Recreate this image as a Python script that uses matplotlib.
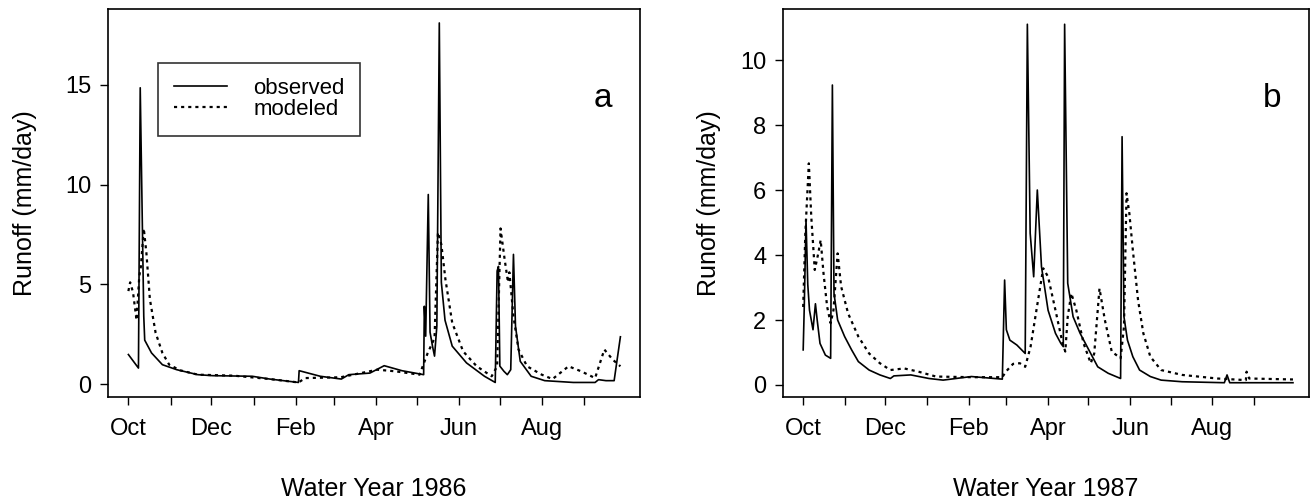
import numpy as np
import matplotlib
matplotlib.use("Agg")
import matplotlib.pyplot as plt

plt.rcParams['font.family'] = ['Liberation Sans', 'DejaVu Sans']

# days since 1 Oct, runoff in mm/day
# water year 1986
day_obs_a = [0, 7.4, 8.7, 11.3, 12, 17, 25, 35.5, 51, 62, 91, 104, 125, 125.5, 141, 156.5,
             162, 177.5, 188, 201, 217, 217.5, 218.5, 220.4, 221.7, 223.5, 225, 226.7, 228.5,
             230, 232.7, 238, 248.5, 261.7, 269.6, 271, 272, 273, 276, 278.5, 281, 283,
             284.5, 288, 296, 306, 327, 343, 345.5, 351, 357, 361.6]
val_obs_a = [1.48, 0.8, 14.85, 3.4, 2.2, 1.56, 0.97, 0.72, 0.47, 0.42, 0.39, 0.25, 0.08, 0.67, 0.39, 0.25,
             0.47, 0.55, 0.92, 0.67, 0.47, 3.9, 2.4, 9.5, 2.6, 1.9, 1.4, 2.9, 18.1,
             5.1, 3.2, 1.9, 1.06, 0.39, 0.08, 5.67, 5.9, 0.9, 0.64, 0.47, 0.72, 6.5,
             2.9, 1.14, 0.39, 0.17, 0.08, 0.08, 0.22, 0.17, 0.17, 2.37]

day_mod_a = [0, 1.3, 3.4, 6, 8, 9.2, 11.3, 13.2, 15.8, 20, 25, 30, 38, 51, 77.6, 104, 125,
             130, 156, 183, 196, 214, 220, 225, 227.5, 230, 233, 238, 246, 256, 267, 271,
             273.5, 276.5, 279, 280, 283, 286.7, 293, 303.8, 311.7, 323.5, 332.7, 343,
             349.8, 356, 361.6]
val_mod_a = [4.66, 5.1, 4.6, 3.2, 5.4, 5.9, 7.8, 6.6, 4.25, 2.57, 1.56, 0.97, 0.69, 0.47, 0.42, 0.25, 0.08,
             0.3, 0.34, 0.72, 0.64, 0.47, 1.56, 2.3, 7.6, 7.0, 5.25, 3.07, 1.64, 0.89, 0.39, 0.89,
             7.8, 6.26, 5.1, 5.6, 3.4, 1.73, 0.89, 0.47, 0.25, 0.89, 0.64, 0.3,
             1.73, 1.22, 0.89]

# water year 1987
day_obs_b = [0, 0.8, 2.1, 3.4, 4.7, 7.3, 9.1, 10.4, 12.5, 16.5, 20.4, 21.7, 22.9, 25.6, 30.8,
             36, 41, 49, 57, 64.8, 67.4, 80, 93.5, 104, 125, 148, 149.7, 151, 153.6, 158.8,
             165, 166.6, 168.7, 171.3, 174, 177.1, 182, 187.5, 191.5, 193.3, 194.3, 196.6,
             200.6, 205.8, 211, 218.9, 226.7, 235.9, 237, 238.4, 241, 245, 250, 258, 266,
             281.6, 313, 315, 317, 364]
val_obs_b = [1.08, 2.4, 5.08, 3.1, 2.3, 1.7, 2.5, 2.0, 1.28, 0.92, 0.82, 9.23, 2.82, 2.0, 1.49,
             1.08, 0.72, 0.46, 0.31, 0.2, 0.28, 0.31, 0.2, 0.15, 0.26, 0.18, 3.23, 1.7, 1.38, 1.23,
             0.97, 11.1, 4.67, 3.33, 6.0, 3.64, 2.3, 1.59, 1.28, 1.18, 11.1, 3.13,
             2.1, 1.59, 1.18, 0.56, 0.36, 0.2, 7.64, 2.1, 1.38, 0.87, 0.46, 0.26, 0.15,
             0.1, 0.07, 0.31, 0.07, 0.07]

day_mod_b = [0, 1.6, 4.2, 6, 8.6, 11.2, 13, 15.1, 17.8, 20.4, 22.5, 25.6, 28.2, 33.4, 41, 49, 57,
             64.8, 75, 85.7, 98.7, 125, 148, 150.6, 156, 161, 165, 169, 174.5, 178.4, 182,
             187.5, 192.8, 194.8, 196.6, 199.3, 203, 208.4, 213.7, 216.3, 220.2, 224.2, 229.3,
             235.9, 238.4, 240.3, 242.4, 245, 248.9, 252.8, 258, 266, 281.6, 307.7, 329, 329.5,
             331.5, 364]
val_mod_b = [2.4, 4.67, 6.82, 5.18, 3.54, 4.05, 4.46, 3.44, 2.41, 1.9, 2.3, 4.05, 3.03, 2.2, 1.49, 0.97, 0.67,
             0.46, 0.51, 0.41, 0.26, 0.24, 0.24, 0.41, 0.65, 0.67, 0.56, 1.18, 2.6, 3.59, 3.33,
             2.3, 1.28, 1.03, 2.1, 2.82, 2.3, 1.28, 0.67, 0.97, 2.97, 2.0, 1.03,
             0.82, 1.79, 5.9, 5.28, 4.15, 2.6, 1.59, 0.87, 0.46, 0.31, 0.2, 0.15, 0.41,
             0.2, 0.17]

month_days = [0, 31, 61, 92, 123, 151, 182, 212, 243, 273, 304, 335]
month_labels = ['Oct', '', 'Dec', '', 'Feb', '', 'Apr', '', 'Jun', '', 'Aug', '']

fig = plt.figure(figsize=(13.12, 5.03), dpi=100)
ax_a = fig.add_axes([0.0823, 0.2107, 0.4055, 0.7714])
ax_b = fig.add_axes([0.5968, 0.2107, 0.4010, 0.7714])


def style_axes(ax, xlab, yticks, ylim, ypad):
    ax.set_xticks(month_days)
    ax.set_xticklabels(month_labels)
    ax.set_yticks(yticks)
    ax.set_ylim(ylim)
    ax.set_xlim(-15, 376)
    ax.tick_params(axis='both', direction='out', length=6, width=1, labelsize=17, pad=6)
    ax.tick_params(axis='x', pad=9)
    for s in ax.spines.values():
        s.set_linewidth(1.2)
    ax.set_xlabel(xlab, fontsize=18, labelpad=27)
    ax.set_ylabel('Runoff (mm/day)', fontsize=18, labelpad=ypad)


ax_a.plot(day_obs_a, val_obs_a, color='black', lw=1.2, label='observed')
ax_a.plot(day_mod_a, val_mod_a, color='black', lw=1.6, ls=(0, (1.4, 1.8)), label='modeled')
style_axes(ax_a, 'Water Year 1986', [0, 5, 10, 15], (-0.65, 18.8), 20)
leg = ax_a.legend(loc='upper left', bbox_to_anchor=(0.094, 0.862), fontsize=16, frameon=True,
                  fancybox=False, edgecolor='black', handlelength=2.4, handletextpad=1.2,
                  borderpad=0.7, labelspacing=0.0, borderaxespad=0)
leg.get_frame().set_linewidth(1.2)
ax_a.text(0.93, 0.77, 'a', transform=ax_a.transAxes, fontsize=24, ha='center', va='center')

ax_b.plot(day_obs_b, val_obs_b, color='black', lw=1.2)
ax_b.plot(day_mod_b, val_mod_b, color='black', lw=1.6, ls=(0, (1.4, 1.8)))
style_axes(ax_b, 'Water Year 1987', [0, 2, 4, 6, 8, 10], (-0.37, 11.57), 14)
ax_b.text(0.93, 0.77, 'b', transform=ax_b.transAxes, fontsize=24, ha='center', va='center')

fig.savefig('out.png', dpi=100)
